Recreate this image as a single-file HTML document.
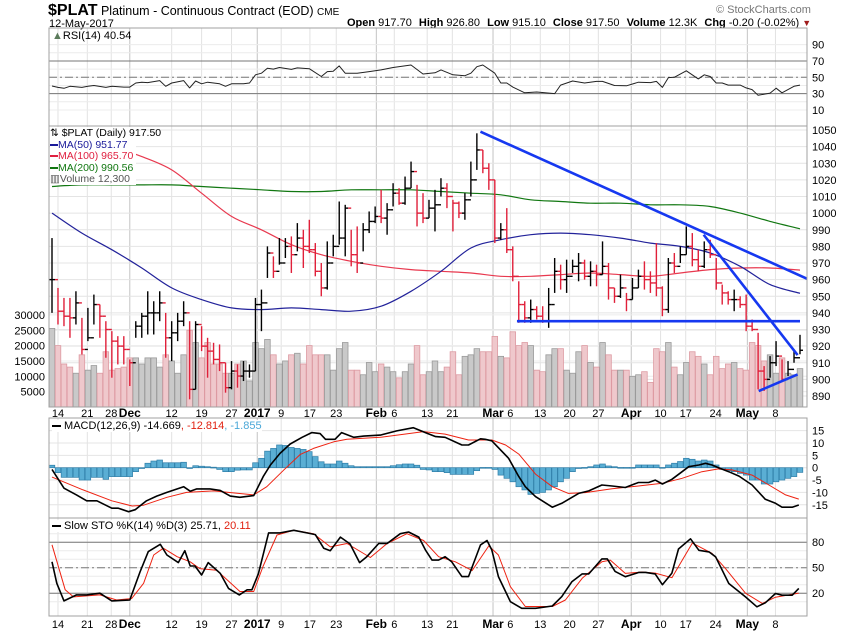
<!DOCTYPE html>
<html><head><meta charset="utf-8"><style>
html,body{margin:0;padding:0;background:#fff;}
svg{display:block;font-family:"Liberation Sans",sans-serif;}
</style></head><body>
<svg id="c" width="850" height="633" viewBox="0 0 850 633" xmlns="http://www.w3.org/2000/svg">
<text x="48" y="15" font-size="12.5" fill="#000"><tspan font-size="16" font-weight="bold">$PLAT</tspan> Platinum - Continuous Contract (EOD) <tspan font-size="10">CME</tspan></text>
<text x="49" y="27" font-size="11" fill="#000">12-May-2017</text>
<text x="716" y="13" font-size="11" fill="#777">© StockCharts.com</text>
<text x="347" y="26" font-size="11" fill="#000"><tspan font-weight="bold">Open</tspan> 917.70  <tspan font-weight="bold" dx="4">High</tspan> 926.80 <tspan font-weight="bold" dx="4">Low</tspan> 915.10 <tspan font-weight="bold" dx="4">Close</tspan> 917.50 <tspan font-weight="bold" dx="4">Volume</tspan> 12.3K <tspan font-weight="bold" dx="4">Chg</tspan> -0.20 (-0.02%) <tspan fill="#a01c1c" font-size="9">▼</tspan></text>
</svg>
<script>
// ---- data ----
const highs=[985,955,949,949,953,937,943,951,945,935,929,926,926,912,935,940,953,947,953,940,935,940,947,935,935,932,925,922,921,910,911,909,911,909,949,954,980,974,985,985,986,994,990,996,982,970,983,987,1007,1005,990,992,994,1001,1004,1014,1006,1018,1015,1022,1031,1017,1012,1008,1014,1021,1018,1008,1007,1012,1031,1048,1038,1030,1020,994,1003,980,959,947,948,944,944,955,973,969,972,972,976,972,971,969,983,970,955,963,952,961,966,971,965,982,956,973,976,980,992,988,978,983,984,973,957,953,954,950,951,936,928,908,914,923,912,911,918,926.8];
const lows=[940,933,932,925,933,915,923,933,925,913,901,909,909,896,925,925,927,927,935,913,911,923,932,888,894,917,901,909,905,892,894,895,899,901,905,929,961,961,969,973,964,977,967,976,962,950,954,974,981,974,968,964,977,988,994,994,987,1004,1005,1005,1015,992,994,997,989,1010,1003,989,997,996,1010,1026,1024,1014,982,984,976,959,934,934,934,936,934,931,952,954,952,964,959,960,956,956,963,948,946,949,941,948,955,954,952,950,938,940,964,970,975,968,965,967,973,954,945,945,941,943,929,929,894,893,901,908,899,902,910,915.1];
const closes=[960,941,938,937,946,918,925,945,938,930,923,920,918,910,932,938,940,940,946,925,928,935,940,894,933,920,917,912,910,895,905,902,905,905,945,946,976,965,970,980,975,985,980,978,965,955,970,980,985,1003,975,970,990,995,998,997,1002,1012,1006,1015,1025,1000,997,1003,1005,1015,1010,1006,1000,1008,1020,1038,1027,1020,985,990,978,962,945,937,942,938,935,945,965,960,962,968,970,962,965,963,968,955,950,955,948,955,962,960,958,955,942,970,968,975,980,972,968,978,975,958,952,948,948,945,932,930,905,900,910,914,900,906,913,917.5];
const volumes=[25.6,20,14,13,11,17,12,13.5,11,18,12,12.5,13,16,16,14,16,16,13,17,15,11,17,25,21,16,21,14,14,11,11,14,15,8.5,21,19,22,17,14,15,17,17.5,14,20,17,17,17,12,19,21,12,12,10.5,14.5,11.5,14,13,11.5,9.5,11.5,14,20,10.5,11.5,15,11.5,13,18,10.5,16.5,17,19,18,18,23,16.5,16,24.5,20,21,20,12,11.5,17,19,19,12,11,18,20,14.5,13,21,17,12,12,12,10,10.5,11.5,8,19,18,21,13,10.5,14.5,18,16.5,14,10.5,16.5,12.5,14,14.5,12.5,12,21,20,15,17,11,16,11,10.5,12.5];
const maIdx=[0,5,10,15,20,25,30,35,40,45,50,55,60,65,70,75,80,85,90,95,100,105,110,115,120,125];
const ma50=[1000,988,978,967,955,948,943,942,943,942,941,944,953,965,979,984,987,988,987,985,982,980,976,968,957,951.8];
const ma100=[1048,1044,1040,1034,1026,1012,998,990,981,975,971,968,966,965,964,962,962,963,964,963,962,964,966,967,967,965.7];
const ma200=[1016,1017,1017,1017,1017,1016,1015,1014,1013,1013,1014,1014,1014,1013,1012,1011,1008,1007,1006,1006,1005,1005,1004,1000,995,990.6];
const rsiIdx=[0,1,2,3,5,6,7,9,10,12,13,14,15,16,18,19,20,22,23,24,25,26,28,29,30,32,33,34,35,36,37,38,40,41,43,45,46,47,48,49,51,53,55,57,60,62,64,65,67,69,70,71,72,74,75,76,77,79,81,84,85,87,89,91,92,94,96,98,100,101,102,103,104,106,108,109,110,111,112,113,115,116,117,118,120,121,122,124,125];
const rsiVal=[39.3,37.6,36.5,39,37.6,39,40,37.6,39,38,38,43,44,43.5,46,39,43,46,37,45.5,42,44,42,39,42,42,43,53,55,61,60,62,59.7,61.5,60.5,51,57,57.5,64,55,55,57,59,62,65,54,55.5,59,53,52,55,63,65,55,43,43,38,31,32,30,40.5,45.5,43,45,45,40,39.6,44,43.5,45,37.6,49.6,50,58,48,53,51,43,43,40.5,40.5,37,35,28,30.6,36.6,31,39,40.5];
const macdIdx=[0,2,4.1,5.8,7.5,10,11.1,12.8,13.9,15.8,17.5,19.2,22,23.1,24.2,26.4,28.1,29.8,31.4,33.7,35.3,36.5,38.1,39.8,41.8,43.4,44.8,45.7,47.3,48.4,50.4,52.1,54.9,57.6,60.4,62.4,64.1,65.7,68.5,69.6,71.6,72.4,73.5,76.3,78,79.1,80.8,83.6,85.2,88,89.7,91.9,93.6,95.8,98,99.7,100.8,102,103.6,105.3,106.4,108.1,109.2,110.3,111.4,113.1,114.8,117,119.2,120.9,122,123.7,124.8];
const macdVal=[-0.7,-8.3,-11,-13.4,-13.4,-16.4,-16.4,-17.8,-17,-13.4,-11.5,-10,-7.7,-9.5,-8.6,-8.6,-9.2,-11.5,-12,-11.3,-3.6,1.1,5.8,9.6,12.3,14.2,13.8,11.5,11.5,14.2,12.3,12.8,13.2,14.9,16.2,14.2,12.6,12.3,9.2,9.2,11.7,11.5,10.9,3.8,-3.6,-7.7,-11.7,-16,-14.4,-10.4,-9.4,-7,-7.4,-8,-6,-6,-5,-6.6,-4.7,-1.6,0.4,1.1,1.8,1.1,0,-1.6,-3.4,-7,-12.8,-14.4,-16,-16,-15.1];
const sigIdx=[0,5.2,10,13.4,15.3,19.2,22.5,27,30.3,33.7,35.9,38.7,41.5,43.7,47.1,49.3,54.9,62.1,65.7,69.6,73.5,75.8,78,80.8,83.6,86.3,89.1,93.6,98,102,105.3,108.6,111.4,113.6,117,119.8,122.6,124.8];
const sigVal=[-3.8,-9,-13.4,-15.5,-15.2,-12,-10,-9.4,-10.2,-11,-7.7,-1,5.4,7.8,10.5,11.5,12.3,14.6,13.6,11.2,11.2,9.2,5.5,-2.6,-7.7,-10.4,-10.1,-8.5,-7.4,-6.3,-4.3,-1.6,-0.5,-0.9,-3,-7,-11,-12.7];
const histVal=[1,-2,-3.9,-3.9,-3.9,-5,-5,-3.9,-3.9,-4.7,-3.6,-3.6,-3.6,-3.6,-1.6,-0.3,1.8,2.7,3.1,2,2,2,2.2,0,0.8,0.6,0.4,0.2,-0.7,-1.6,-1.6,-1,-0.9,-0.9,2,3.8,6.7,7.8,9.2,9,8.2,7.8,7.4,6.5,4.5,2.4,1.5,1.5,2.7,1.8,0.8,0.4,0.4,0.4,0.4,0.4,0.4,0.8,1.2,1.5,1.5,1,-0.7,-0.9,-1.6,-1.6,-2,-2.7,-2.7,-2.7,-2.7,-1.2,0.1,0.1,-0.7,-3,-4.3,-5.7,-7.7,-9,-10.8,-10.4,-10,-9,-7.7,-5.7,-4.3,-1.6,-0.3,0.1,0.4,1.1,1.5,0.7,0.4,0.1,0.1,0.1,1.1,1.1,1.1,1.1,0.1,1.1,1.8,2.5,3.8,3.4,2.7,3.1,2.7,1.1,-0.7,-1.2,-1.6,-2.3,-3,-5,-5,-6.6,-6.6,-5.7,-5,-4.3,-3.6,-1.9];
const kIdx=[0,0.8,2,4.1,5.8,8,10,13,14.7,16.1,18.1,19.2,21.1,22.2,23.1,23.9,25,26.1,28.1,29.5,31.3,32.6,33.4,34.5,36.2,38.1,40.4,42.6,44,45.4,46.5,48.2,49.8,51.4,52.6,54.6,56,58.2,59.6,61.3,62.4,63.5,64.6,65.7,66.8,68.5,69.6,71.6,72.7,73.5,74.6,76.6,78.5,80.8,83.6,85.2,86.9,88.6,89.7,91.9,92.8,94.1,95.8,98.1,99.2,100.8,102,103.6,104.7,106.7,108.1,109.8,110.9,113.1,115.9,117.8,119.2,120.9,122,123.7,124.8];
const kVal=[57,31.6,11,18,18,20,11,12,45,69,77.5,65,56,70,52,52,41.4,56,43.4,25.7,18,24,24,43,91,91,94,91,89,73,70,86,78,56,63,78.5,78.5,90,92,86,71,59,59,63,57,39.5,39.5,76.8,82,71,39.5,10,2.2,2.2,5,16,33.6,42.7,42.7,60.3,60.3,45.6,39.4,44.5,44.5,42.7,30,43.6,72,84,70.5,68.6,62.8,31.4,15.7,4,8.7,19.6,17.6,17.6,25.7];
const dIdx=[0,2.2,3.6,8,10.8,13.3,15.3,17,18.6,20.9,23.1,24.7,27.5,31.4,33.7,35.3,37.6,40.4,43.7,46.5,49.3,53.2,56,59.3,62.1,64.6,67.4,70.2,73,74.6,76.6,79.1,83.6,85.8,88.6,91.9,93.3,95.8,98.6,100.8,103.6,107,110.3,112.5,115.9,118.7,120.9,124.8];
const dVal=[77,24,15.7,18,12,13.7,31.6,65,73,63,57,49,47,22,22,52,88.5,94,90,74.5,78.5,62,78.5,90,82,63,57,46.6,75.6,65,27.7,4.3,4.3,12,37.5,57,59,43.3,45,43.6,38.2,79,67,49.4,20,8,15.3,20.1];
const trendLines=[[71.6,1049,131.8,951.4],[108.9,987,124.6,914.6],[77.7,935,125,935],[118.1,893,124.6,903]];
const dateIdx=[1,5.9,9.9,13,20,25,30,34.3,38.3,43.1,47.5,54.2,57.2,62.7,66.9,73.7,76.6,81.6,86.5,91.3,96.8,101.7,105.9,110.9,116.2,120.9];
const dateLbl=["14","21","28","Dec","12","19","27","2017","9","17","23","Feb","6","13","21","Mar","6","13","20","27","Apr","10","17","24","May","8"];
const dateBold=[0,0,0,1,0,0,0,1,0,0,0,1,0,0,0,1,0,0,0,0,1,0,0,0,1,0];
const rsiTicks=[90,70,50,30,10];
const priceTicks=[1050,1040,1030,1020,1010,1000,990,980,970,960,950,940,930,920,910,900,890];
const volTicks=[30,25,20,15,10,5];
const macdTicks=[15,10,5,0,-5,-10,-15];
const stoTicks=[80,50,20];

// ---- scales ----
const L=49,R=807;
const N=closes.length;
const step=(800-52)/(N-1);
const X=i=>52+i*step;
const yR=v=>77.3-(v-50)*0.8167;
const yP=p=>130+(1050-p)*1.6625;
const yV=v=>407-v*3.07;
const yM=v=>467.7-v*2.47;
const yS=v=>567.7-(v-50)*0.85;
const svg=document.getElementById('c');
const NS='http://www.w3.org/2000/svg';
function el(tag,a,parent){const e=document.createElementNS(NS,tag);for(const k in a)e.setAttribute(k,a[k]);(parent||svg).appendChild(e);return e;}
function txt(s,x,y,a,parent){const t=el('text',Object.assign({x:x,y:y,'font-size':11,fill:'#000'},a||{}),parent);t.textContent=s;return t;}

const panels=[[28,126],[126,407],[418,518],[518,616]];
const grid=el('g',{});


panels.forEach(p=>{
  dateIdx.forEach((d,k)=>{el('line',{x1:X(d),x2:X(d),y1:p[0],y2:p[1],stroke:dateBold[k]?'#c4c4c4':'#e2e2e2','stroke-width':1},grid);});
});
for(let v=10;v<=90;v+=10){el('line',{x1:L,x2:R,y1:yR(v),y2:yR(v),stroke:'#ececec'},grid);}
priceTicks.forEach(p=>el('line',{x1:L,x2:R,y1:yP(p),y2:yP(p),stroke:'#e4e4e4'},grid));
volTicks.forEach(v=>el('line',{x1:L,x2:R,y1:yV(v),y2:yV(v),stroke:'#ececec'},grid));
macdTicks.forEach(v=>el('line',{x1:L,x2:R,y1:yM(v),y2:yM(v),stroke:'#e4e4e4'},grid));
for(let v=10;v<=90;v+=10){el('line',{x1:L,x2:R,y1:yS(v),y2:yS(v),stroke:'#ececec'},grid);}
[[yR(70),0],[yR(30),0],[yR(50),1],[yS(80),0],[yS(20),0],[yS(50),1]].forEach(r=>{
  el('line',{x1:L,x2:R,y1:r[0],y2:r[0],stroke:'#777','stroke-width':1,'stroke-dasharray':r[1]?'8,3,2,3':''});
});

function poly(xs,vs,fy,color,w,name){
  const pts=xs.map((d,k)=>X(d).toFixed(1)+','+fy(vs[k]).toFixed(1)).join(' ');
  const p=el('polyline',{points:pts,fill:'none',stroke:color,'stroke-width':w,'stroke-linejoin':'round'});
  
  
  return p;
}
function smooth(xs,vs,fy,color,w,name){
  const P=xs.map((d,k)=>[X(d),fy(vs[k])]);
  let d='M'+P[0][0].toFixed(1)+','+P[0][1].toFixed(1);
  for(let k=0;k<P.length-1;k++){
    const p0=P[Math.max(0,k-1)],p1=P[k],p2=P[k+1],p3=P[Math.min(P.length-1,k+2)];
    const c1=[p1[0]+(p2[0]-p0[0])/6,p1[1]+(p2[1]-p0[1])/6];
    const c2=[p2[0]-(p3[0]-p1[0])/6,p2[1]-(p3[1]-p1[1])/6];
    d+=' C'+c1[0].toFixed(1)+','+c1[1].toFixed(1)+' '+c2[0].toFixed(1)+','+c2[1].toFixed(1)+' '+p2[0].toFixed(1)+','+p2[1].toFixed(1);
  }
  const p=el('path',{d:d,fill:'none',stroke:color,'stroke-width':w});
  
  
  return p;
}
poly(rsiIdx,rsiVal,yR,'#222',1,'rsi-line');

volumes.forEach((v,i)=>{
  const down=i>0&&closes[i]<closes[i-1];
  const r=el('rect',{x:X(i)-2.8,y:yV(v),width:5.6,height:407-yV(v),fill:down?'#efc8cc':'#c9c9c9',stroke:down?'#dd9aa2':'#9a9a9a','stroke-width':0.8});
  
  
});
smooth(maIdx,ma200,yP,'#117711',1.2,'ma200-line');
smooth(maIdx,ma100,yP,'#e8394f',1.2,'ma100-line');
smooth(maIdx,ma50,yP,'#22229a',1.2,'ma50-line');
closes.forEach((c,i)=>{
  const o=i>0?closes[i-1]:c;
  const col=(i>0&&c<o)?'#e0203a':'#000';
  const g=el('g',{stroke:col,'stroke-width':1.4});
  
  
  el('line',{x1:X(i),x2:X(i),y1:yP(highs[i]),y2:yP(lows[i])},g);
  el('line',{x1:X(i)-3,x2:X(i),y1:yP(o),y2:yP(o)},g);
  el('line',{x1:X(i),x2:X(i)+3,y1:yP(c),y2:yP(c)},g);
});
trendLines.forEach(t=>{
  const l=el('line',{x1:X(t[0]),y1:yP(t[1]),x2:X(t[2]),y2:yP(t[3]),stroke:'#1638f0','stroke-width':2.6});
  
  
});
histVal.forEach((v,i)=>{
  const y0=yM(0),y1=yM(v);
  const r=el('rect',{x:X(i)-2.8,y:Math.min(y0,y1),width:5.6,height:Math.max(0.8,Math.abs(y1-y0)),fill:'#5aaed4',stroke:'#2f7ea8','stroke-width':0.7});
  
  
});
poly(sigIdx,sigVal,yM,'#ee2211',1,'macd-signal-line');
poly(macdIdx,macdVal,yM,'#000',1.6,'macd-line');
poly(dIdx,dVal,yS,'#ee2211',1,'sto-d-line');
poly(kIdx,kVal,yS,'#000',1.6,'sto-k-line');

el('rect',{x:R+0.5,y:126,width:50,height:281,fill:'#fff'});
panels.forEach(p=>el('rect',{x:L,y:p[0],width:R-L,height:p[1]-p[0],fill:'none',stroke:'#a0a0a0','stroke-width':1}));

const ax=el('g',{'font-size':11});


rsiTicks.forEach(v=>txt(String(v),812,yR(v)+4,{},ax));
priceTicks.forEach(v=>txt(String(v),812,yP(v)+4,{},ax));
volTicks.forEach(v=>txt(String(v*1000),45,yV(v)+4,{'text-anchor':'end'},ax));
macdTicks.forEach(v=>txt(String(v),812,yM(v)+4,{},ax));
stoTicks.forEach(v=>txt(String(v),812,yS(v)+4,{},ax));
[417,628].forEach(yy=>dateIdx.forEach((d,k)=>txt(dateLbl[k],X(d),yy,{'text-anchor':'middle','font-weight':dateBold[k]?'bold':'normal','font-size':dateBold[k]?12:11},ax)));
</script>
<div style="position:absolute;left:0;top:0;width:850px;height:633px;pointer-events:none;font-family:'Liberation Sans',sans-serif;color:#000;">
  <div style="position:absolute;left:52px;top:30px;font-size:11px;white-space:nowrap;"><span style="color:#5a7a5a;">▲</span>RSI(14) 40.54</div>
  <div style="position:absolute;left:50px;top:127px;width:86px;height:57px;background:#fff;font-size:10.5px;line-height:11.5px;white-space:nowrap;padding-top:1px;">
    <div>⇅ $PLAT (Daily) 917.50</div>
    <div style="color:#1a1a9a;"><span style="display:inline-block;width:8px;height:2px;background:#1a1a9a;vertical-align:middle;"></span>MA(50) 951.77</div>
    <div style="color:#e02040;"><span style="display:inline-block;width:8px;height:2px;background:#e02040;vertical-align:middle;"></span>MA(100) 965.70</div>
    <div style="color:#117711;"><span style="display:inline-block;width:8px;height:2px;background:#117711;vertical-align:middle;"></span>MA(200) 990.56</div>
    <div style="color:#555;">▥Volume 12,300</div>
  </div>
  <div style="position:absolute;left:52px;top:420px;font-size:11px;white-space:nowrap;background:#fff;"><span style="display:inline-block;width:9px;height:2px;background:#000;vertical-align:middle;"></span> MACD(12,26,9) -14.669<span style="color:#e02010;">, -12.814</span><span style="color:#4aa8d8;">, -1.855</span></div>
  <div style="position:absolute;left:52px;top:520px;font-size:11px;white-space:nowrap;background:#fff;"><span style="display:inline-block;width:9px;height:2px;background:#000;vertical-align:middle;"></span> Slow STO %K(14) %D(3) 25.71,<span style="color:#e02010;"> 20.11</span></div>
</div>
</body></html>
